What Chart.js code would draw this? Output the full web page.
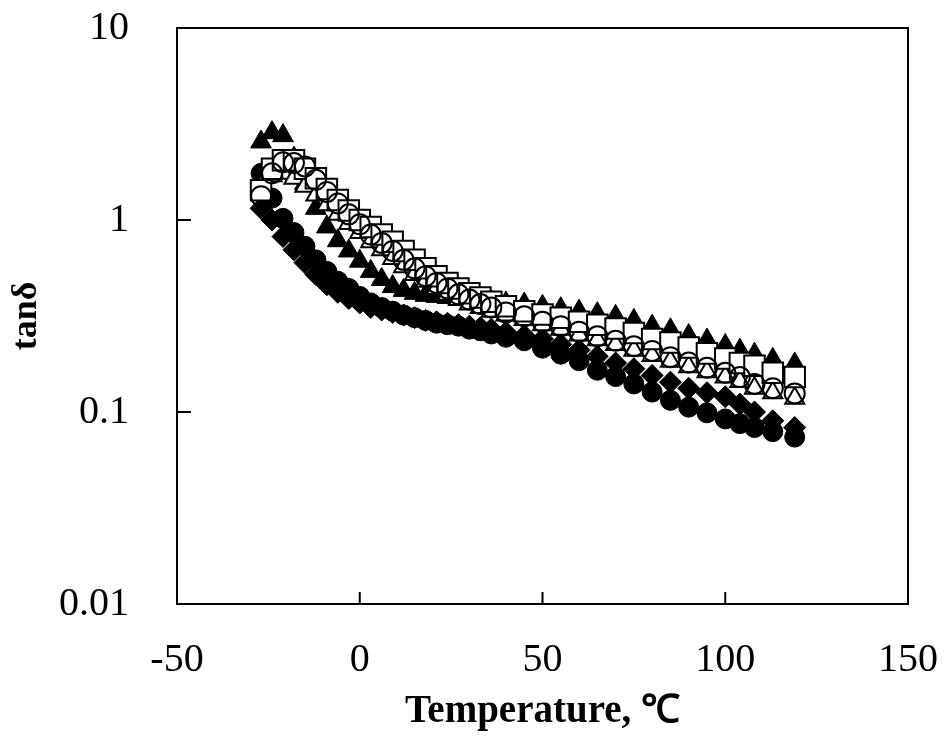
<!DOCTYPE html>
<html>
<head>
<meta charset="utf-8">
<script src="https://cdn.jsdelivr.net/npm/chart.js@4"></script>
<style>
  body { margin: 0; background: #fff; }
  canvas { display: block; }
</style>
</head>
<body>
<canvas id="chart" width="946" height="739"></canvas>
<script>
// temperatures (°C) shared by all series
const temps = [-27, -24, -21, -18, -15, -12, -9, -6, -3, 0, 3, 6, 9, 12, 15, 18, 21, 24, 27, 30, 33, 36,
               40, 45, 50, 55, 60, 65, 70, 75, 80, 85, 90, 95, 100, 104, 108, 113, 119];

// tan delta, one array per sample
const openSquare = [1.43, 1.85, 2.05, 2.05, 1.85, 1.65, 1.45, 1.27, 1.12, 1.0, 0.92, 0.84, 0.77, 0.69, 0.62, 0.56, 0.51, 0.47, 0.44, 0.415, 0.395, 0.375,
                    0.355, 0.335, 0.322, 0.31, 0.295, 0.285, 0.272, 0.258, 0.24, 0.23, 0.217, 0.202, 0.19, 0.18, 0.174, 0.16, 0.152];
const openTriangle = [1.5, 1.7, 1.75, 1.65, 1.5, 1.35, 1.2, 1.07, 0.96, 0.86, 0.77, 0.7, 0.63, 0.57, 0.52, 0.48, 0.44, 0.41, 0.385, 0.365, 0.35, 0.335,
                      0.32, 0.303, 0.285, 0.27, 0.252, 0.238, 0.225, 0.21, 0.197, 0.184, 0.172, 0.162, 0.152, 0.144, 0.133, 0.126, 0.118];
const openCircle = [1.33, 1.75, 2.0, 1.98, 1.9, 1.62, 1.4, 1.22, 1.07, 0.95, 0.84, 0.76, 0.69, 0.62, 0.56, 0.51, 0.47, 0.44, 0.41, 0.385, 0.365, 0.35,
                    0.33, 0.315, 0.295, 0.28, 0.262, 0.248, 0.235, 0.22, 0.208, 0.193, 0.181, 0.17, 0.16, 0.152, 0.14, 0.133, 0.125];
const filledTriangle = [2.55, 2.85, 2.75, 2.1, 1.55, 1.15, 0.92, 0.78, 0.69, 0.61, 0.54, 0.49, 0.45, 0.43, 0.415, 0.405, 0.4, 0.395, 0.39, 0.385, 0.38, 0.375,
                        0.37, 0.365, 0.355, 0.345, 0.335, 0.325, 0.315, 0.3, 0.28, 0.268, 0.25, 0.237, 0.222, 0.21, 0.2, 0.188, 0.178];
const filledDiamond = [1.15, 1.0, 0.82, 0.7, 0.6, 0.52, 0.46, 0.42, 0.39, 0.37, 0.35, 0.34, 0.33, 0.32, 0.31, 0.3, 0.295, 0.29, 0.285, 0.28, 0.275, 0.27,
                       0.26, 0.25, 0.24, 0.225, 0.21, 0.195, 0.18, 0.168, 0.155, 0.143, 0.133, 0.126, 0.12, 0.11, 0.1, 0.09, 0.083];
const filledCircle = [1.75, 1.3, 1.02, 0.86, 0.73, 0.62, 0.54, 0.48, 0.44, 0.4, 0.37, 0.35, 0.335, 0.32, 0.31, 0.3, 0.29, 0.285, 0.28, 0.27, 0.265, 0.255,
                      0.245, 0.235, 0.215, 0.2, 0.185, 0.165, 0.153, 0.14, 0.127, 0.115, 0.106, 0.099, 0.092, 0.087, 0.083, 0.079, 0.074];

const yTicks = [0.01, 0.1, 1, 10];
const xTicks = [-50, 0, 50, 100, 150];

const serif = "'Liberation Serif', 'Times New Roman', serif";

function pts(vals) {
    return temps.map((t, i) => ({ x: t, y: vals[i] }));
}

function openSet(vals, style, r, fill) {
    return { data: pts(vals), pointStyle: style, pointRadius: r, backgroundColor: fill, borderColor: '#000', borderWidth: 2 };
}
function filledSet(vals, style, r) {
    return { data: pts(vals), pointStyle: style, pointRadius: r, backgroundColor: '#000', borderColor: '#000', borderWidth: 1 };
}

// plot frame and inward tick marks
const framePlugin = {
    id: 'frame',
    afterDraw(chart) {
        const { ctx, chartArea: a, scales } = chart;
        ctx.save();
        ctx.strokeStyle = '#000';
        ctx.lineWidth = 2;
        ctx.strokeRect(a.left, a.top, a.right - a.left, a.bottom - a.top);
        ctx.beginPath();
        yTicks.slice(1, -1).forEach(v => {
            const y = scales.y.getPixelForValue(v);
            ctx.moveTo(a.left, y);
            ctx.lineTo(a.left + 14, y);
        });
        xTicks.slice(1, -1).forEach(v => {
            const x = scales.x.getPixelForValue(v);
            ctx.moveTo(x, a.bottom);
            ctx.lineTo(x, a.bottom - 12);
        });
        ctx.stroke();
        ctx.restore();
    }
};

new Chart(document.getElementById('chart'), {
    type: 'scatter',
    data: {
        // first dataset is drawn on top
        datasets: [
            openSet(openCircle, 'circle', 10, 'rgba(0,0,0,0)'),
            openSet(openSquare, 'rect', 14.5, '#fff'),
            openSet(openTriangle, 'triangle', 11, '#fff'),
            filledSet(filledTriangle, 'triangle', 12),
            filledSet(filledDiamond, 'rectRot', 11),
            filledSet(filledCircle, 'circle', 10)
        ]
    },
    options: {
        responsive: false,
        devicePixelRatio: 1,
        animation: false,
        layout: { padding: { top: 28, right: 38, left: 0, bottom: 0 } },
        plugins: { legend: { display: false }, tooltip: { enabled: false } },
        scales: {
            x: {
                type: 'linear',
                min: -50,
                max: 150,
                afterBuildTicks: s => { s.ticks = xTicks.map(v => ({ value: v })); },
                afterFit: s => { s.height = 135; s.paddingLeft = 0; s.paddingRight = 0; },
                grid: { display: false },
                border: { display: false },
                ticks: { color: '#000', padding: 24, maxRotation: 0, font: { family: serif, size: 40 } },
                title: { display: true, text: 'Temperature, ℃', color: '#000', padding: { top: 0, bottom: 4 },
                         font: { family: serif, size: 39, weight: 'bold' } }
            },
            y: {
                type: 'logarithmic',
                min: 0.01,
                max: 10,
                afterBuildTicks: s => { s.ticks = yTicks.map(v => ({ value: v })); },
                afterFit: s => { s.width = 177; s.paddingTop = 0; s.paddingBottom = 0; },
                grid: { display: false },
                border: { display: false },
                ticks: { color: '#000', padding: 40, callback: v => String(v), font: { family: serif, size: 40 } },
                title: { display: true, text: 'tanδ', color: '#000', padding: { top: 5, bottom: 0 },
                         font: { family: serif, size: 36, weight: 'bold' } }
            }
        }
    },
    plugins: [framePlugin]
});
</script>
</body>
</html>
